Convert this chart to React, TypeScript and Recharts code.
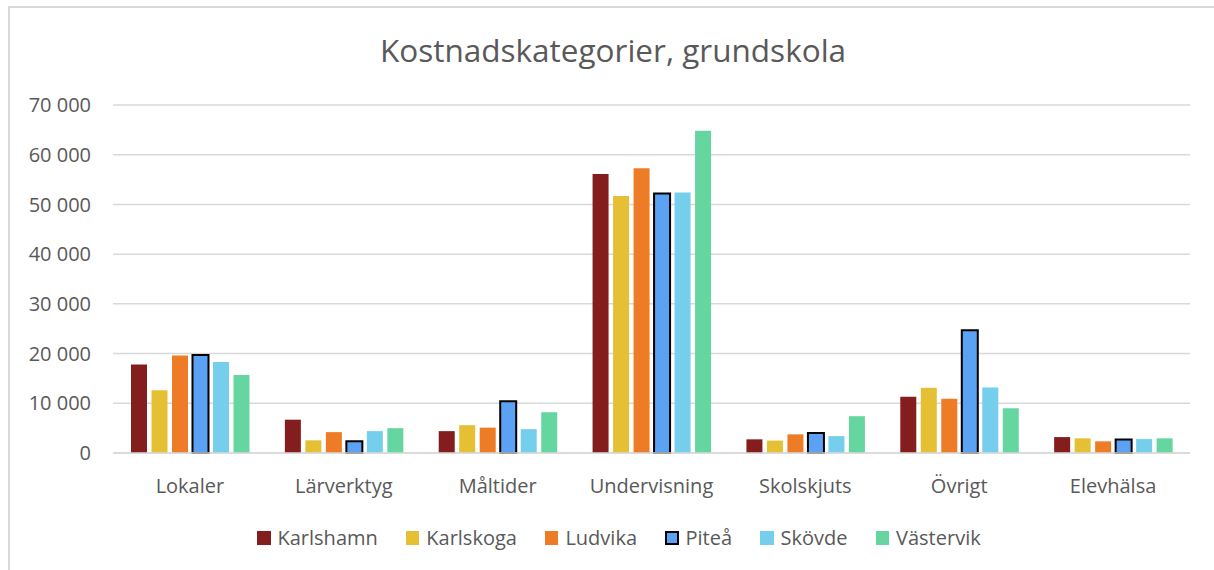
import React from 'react';
import { BarChart, Bar, XAxis, YAxis, CartesianGrid } from 'recharts';

const categories = ['Lokaler', 'Lärverktyg', 'Måltider', 'Undervisning', 'Skolskjuts', 'Övrigt', 'Elevhälsa'];
const seriesNames = ['Karlshamn', 'Karlskoga', 'Ludvika', 'Piteå', 'Skövde', 'Västervik'];
const seriesColors = ['#841D1E', '#E5C034', '#EE7B25', '#5BA2F4', '#75CEEC', '#66D6A0'];
const karlshamn = [17800, 6700, 4400, 56100, 2750, 11300, 3200];
const karlskoga = [12600, 2550, 5600, 51700, 2500, 13100, 2950];
const ludvika = [19600, 4200, 5100, 57300, 3750, 10900, 2350];
const pitea = [19700, 2350, 10400, 52200, 4000, 24700, 2700];
const skovde = [18300, 4400, 4800, 52400, 3400, 13200, 2800];
const vastervik = [15700, 5000, 8200, 64800, 7400, 9000, 2950];
const yTicks = [0, 10000, 20000, 30000, 40000, 50000, 60000, 70000];
const title = 'Kostnadskategorier, grundskola';

const seriesValues = [karlshamn, karlskoga, ludvika, pitea, skovde, vastervik];
const data = categories.map((c, i) => {
  const row: Record<string, string | number> = { name: c };
  seriesNames.forEach((s, j) => {
    row[s] = seriesValues[j][i];
  });
  return row;
});

const FONT = '"Open Sans", sans-serif';
const TEXT = '#595959';
const fmt = (v: number) => String(v).replace(/\B(?=(\d{3})+(?!\d))/g, ' ');

export default function App() {
  return (
    <div style={{ position: 'absolute', left: 0, top: 0, width: 1214, height: 570, background: '#fff', overflow: 'hidden', fontFamily: FONT }}>
      <div style={{ position: 'absolute', left: 8, top: 6, width: 1206, height: 564, borderLeft: '2px solid #D9D9D9', borderTop: '2px solid #D9D9D9', boxSizing: 'border-box' }} />
      <div style={{ position: 'absolute', left: 0, top: 28, width: 1226, textAlign: 'center', fontSize: 31.5, color: TEXT, lineHeight: '44px' }}>
        {title}
      </div>
      <div style={{ position: 'absolute', left: 0, top: 0 }}>
        <BarChart width={1214} height={570} data={data} margin={{ top: 105, right: 24, left: 0, bottom: 77 }} barSize={16} barGap={4.5}>
          <CartesianGrid vertical={false} stroke="#D9D9D9" strokeWidth={1.5} />
          <XAxis
            dataKey="name"
            height={40}
            tickLine={false}
            tickSize={0}
            tickMargin={26}
            axisLine={{ stroke: '#D9D9D9', strokeWidth: 1.5 }}
            tick={{ fill: TEXT, fontSize: 20, fontFamily: FONT }}
            interval={0}
          />
          <YAxis
            width={113}
            domain={[0, 70000]}
            ticks={yTicks}
            tickFormatter={fmt}
            axisLine={false}
            tickLine={false}
            tickSize={0}
            tickMargin={22}
            tick={{ fill: TEXT, fontSize: 20, fontFamily: FONT }}
          />
          {seriesNames.map((s, j) => (
            <Bar
              key={s}
              dataKey={s}
              fill={seriesColors[j]}
              stroke={s === 'Piteå' ? '#000' : undefined}
              strokeWidth={s === 'Piteå' ? 2 : 0}
              isAnimationActive={false}
            />
          ))}
        </BarChart>
      </div>
      <div style={{ position: 'absolute', left: 257, top: 524, height: 28, display: 'flex', alignItems: 'center', gap: 28 }}>
        {seriesNames.map((s, j) => (
          <div key={s} style={{ display: 'flex', alignItems: 'center', gap: 7 }}>
            <div
              style={{
                width: 13.5,
                height: 13.5,
                background: seriesColors[j],
                boxSizing: 'border-box',
                border: s === 'Piteå' ? '2px solid #000' : 'none',
              }}
            />
            <span style={{ fontSize: 20, color: TEXT, lineHeight: '28px' }}>{s}</span>
          </div>
        ))}
      </div>
    </div>
  );
}
